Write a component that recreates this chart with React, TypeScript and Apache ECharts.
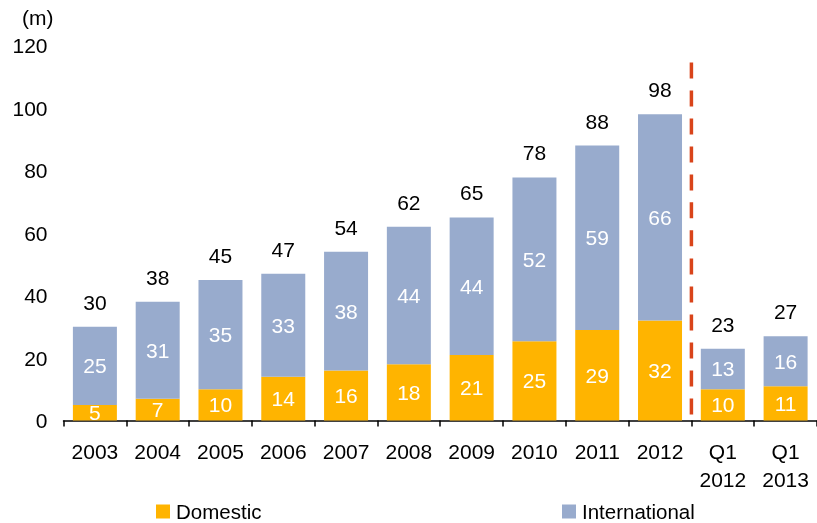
import React, { useEffect, useRef } from "react";
import * as echarts from "echarts";

const categories = ["2003", "2004", "2005", "2006", "2007", "2008", "2009", "2010", "2011", "2012", "Q1\n2012", "Q1\n2013"];
const domestic = [5, 7, 10, 14, 16, 18, 21, 25.4, 29, 32, 10, 11];
const international = [25, 31, 35, 33, 38, 44, 44, 52.4, 59, 66, 13, 16];
const totals = [30, 38, 45, 47, 54, 62, 65, 78, 88, 98, 23, 27];
const dividerX = 10;
const dividerRange = [114.6, 1.8];

const FONT = "Liberation Sans";
const ORANGE = "#FFB400";
const BLUE = "#98ABCD";
const FS = 21;

export default function App() {
  const ref = useRef<HTMLDivElement>(null);
  useEffect(() => {
    if (!ref.current) return;
    const chart = echarts.init(ref.current, null, { renderer: "svg" });
    const inside = {
      show: true,
      position: "inside",
      color: "#fff",
      fontSize: FS,
      fontFamily: FONT,
      formatter: (p: any) => String(Math.round(p.value)),
    };
    const legendBase = {
      top: 501,
      padding: 0,
      itemWidth: 14,
      itemHeight: 14,
      itemGap: 6,
      icon: "rect",
      textStyle: { fontSize: 20.5, fontFamily: FONT, color: "#000", padding: [0, 0, 0, 1] },
    };
    chart.setOption({
      animation: false,
      textStyle: { fontFamily: FONT },
      grid: { left: 63.5, right: -6, top: 45.5, bottom: 102.5, containLabel: false },
      graphic: [
        {
          type: "text",
          left: 22,
          top: 7,
          style: { text: "(m)", fontSize: FS, fontFamily: FONT, fill: "#000" },
        },
      ],
      legend: [
        { ...legendBase, data: ["Domestic"], left: 156 },
        { ...legendBase, data: ["International"], left: 562 },
      ],
      xAxis: [
        {
          type: "category",
          data: categories,
          axisLine: { lineStyle: { color: "#000", width: 1.5 } },
          axisTick: { show: true, length: 6, lineStyle: { color: "#000", width: 1.5 } },
          axisLabel: { color: "#000", fontSize: FS, fontFamily: FONT, margin: 17, lineHeight: 28, interval: 0 },
        },
        {
          type: "value",
          min: 0,
          max: 12,
          show: false,
        },
      ],
      yAxis: {
        type: "value",
        min: 0,
        max: 120,
        interval: 20,
        axisLine: { show: false },
        axisTick: { show: false },
        splitLine: { show: false },
        axisLabel: { color: "#000", fontSize: FS, fontFamily: FONT, margin: 16 },
      },
      series: [
        {
          name: "Domestic",
          type: "bar",
          stack: "s",
          barWidth: 44,
          barGap: "-100%",
          data: domestic,
          itemStyle: { color: ORANGE },
          label: inside,
        },
        {
          name: "International",
          type: "bar",
          stack: "s",
          barWidth: 44,
          barGap: "-100%",
          data: international,
          itemStyle: { color: BLUE },
          label: inside,
        },
        {
          name: "Total",
          type: "bar",
          barWidth: 44,
          barGap: "-100%",
          data: totals,
          silent: true,
          z: 1,
          itemStyle: { color: "rgba(0,0,0,0)" },
          label: { show: true, position: "top", distance: 14, color: "#000", fontSize: FS, fontFamily: FONT },
        },
        {
          name: "Divider",
          type: "line",
          xAxisIndex: 1,
          data: [
            [dividerX, dividerRange[0]],
            [dividerX, dividerRange[1]],
          ],
          symbol: "none",
          silent: true,
          lineStyle: { color: "#D9441A", width: 3.5, type: [16, 12] },
        },
      ],
    });
    return () => chart.dispose();
  }, []);
  return <div ref={ref} style={{ position: "fixed", left: 0, top: 0, width: 817, height: 523 }} />;
}
